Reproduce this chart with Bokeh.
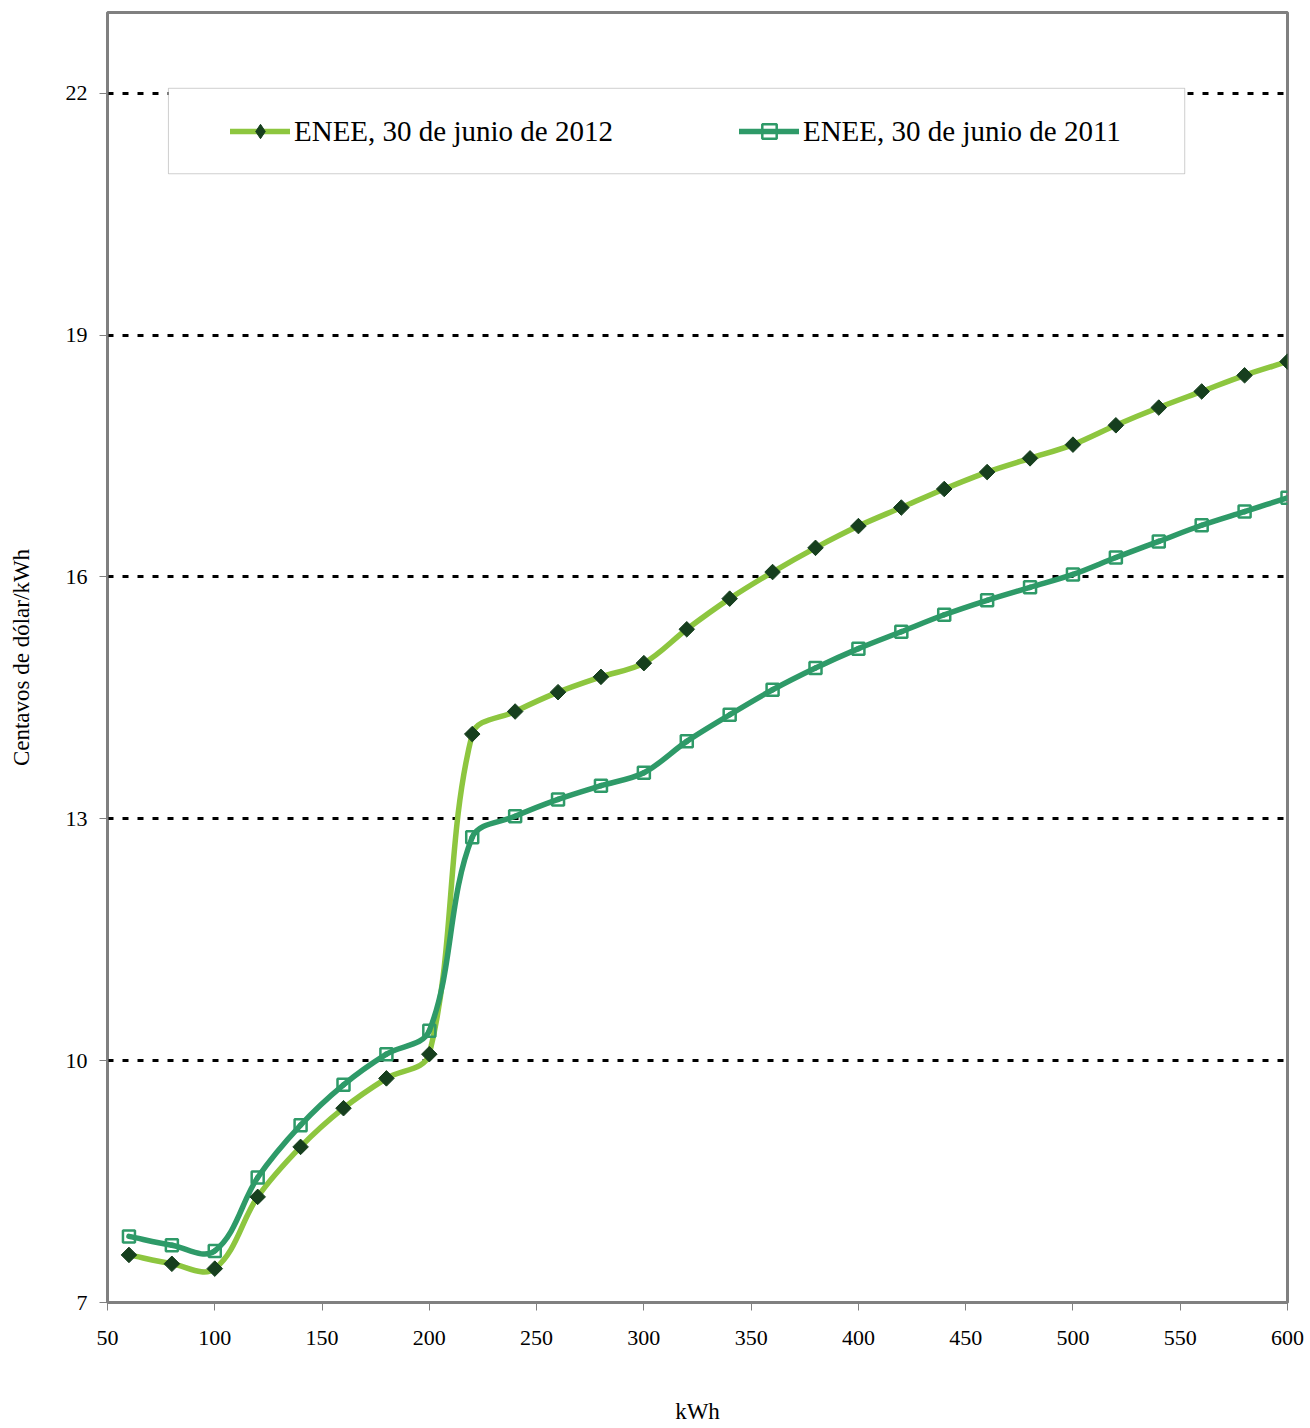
import math
from bokeh.plotting import figure
from bokeh.models import (Range1d, FixedTicker, Legend, LegendItem, BoxAnnotation,
                          ColumnDataSource)
from bokeh.embed import file_html
from bokeh.resources import INLINE

# ---- data ----
kwh = [60, 80, 100, 120, 140, 160, 180, 200, 220, 240, 260, 280, 300, 320,
       340, 360, 380, 400, 420, 440, 460, 480, 500, 520, 540, 560, 580, 600]
enee_2012 = [7.59, 7.48, 7.42, 8.31, 8.93, 9.41, 9.78, 10.08, 14.05, 14.33,
             14.57, 14.76, 14.93, 15.35, 15.73, 16.06, 16.36, 16.63, 16.86,
             17.09, 17.30, 17.47, 17.64, 17.88, 18.10, 18.30, 18.50, 18.67]
enee_2011 = [7.82, 7.71, 7.64, 8.55, 9.20, 9.70, 10.08, 10.37, 12.77, 13.03,
             13.24, 13.41, 13.57, 13.96, 14.29, 14.60, 14.87, 15.11, 15.32,
             15.53, 15.71, 15.87, 16.03, 16.24, 16.44, 16.64, 16.81, 16.98]
x_ticks = [50, 100, 150, 200, 250, 300, 350, 400, 450, 500, 550, 600]
y_ticks = [7, 10, 13, 16, 19, 22]
label_2012 = "ENEE, 30 de junio de 2012"
label_2011 = "ENEE, 30 de junio de 2011"

FONT = "Liberation Serif"
C2012_LINE = "#8DC63F"
C2012_MARK = "#163F1E"
C2011 = "#2E9A68"

X0, X1, Y0, Y1 = 50, 600, 7, 23
FRAME_W, FRAME_H = 1180, 1292
KX = FRAME_W / (X1 - X0)   # px per x unit (for smoothing shape only)
KY = FRAME_H / (Y1 - Y0)   # px per y unit


def smooth_segments(xs, ys):
    """Bezier control points for an Excel-like smoothed line (computed in pixel space)."""
    n = len(xs)
    px = [x * KX for x in xs]
    py = [y * KY for y in ys]

    def tangent(i):
        a = max(i - 1, 0)
        b = min(i + 1, n - 1)
        dx, dy = px[b] - px[a], py[b] - py[a]
        L = math.hypot(dx, dy) or 1.0
        return dx / L, dy / L

    d = dict(x0=[], y0=[], x1=[], y1=[], cx0=[], cy0=[], cx1=[], cy1=[])
    for i in range(n - 1):
        seg = math.hypot(px[i + 1] - px[i], py[i + 1] - py[i]) / 3.0
        t0 = tangent(i)
        t1 = tangent(i + 1)
        d["x0"].append(xs[i]); d["y0"].append(ys[i])
        d["x1"].append(xs[i + 1]); d["y1"].append(ys[i + 1])
        d["cx0"].append((px[i] + t0[0] * seg) / KX)
        d["cy0"].append((py[i] + t0[1] * seg) / KY)
        d["cx1"].append((px[i + 1] - t1[0] * seg) / KX)
        d["cy1"].append((py[i + 1] - t1[1] * seg) / KY)
    return ColumnDataSource(d)


p = figure(width=1305, height=1426, output_backend="svg", toolbar_location=None,
           x_range=Range1d(X0, X1), y_range=Range1d(Y0, Y1),
           min_border_left=107, min_border_right=18, min_border_top=12,
           min_border_bottom=122)

p.background_fill_color = "white"
p.border_fill_color = "white"
p.outline_line_color = "#808080"
p.outline_line_width = 3

# axes
for ax in (p.xaxis[0], p.yaxis[0]):
    ax.axis_line_color = "#808080"
    ax.axis_line_width = 2
    ax.major_tick_line_color = "#808080"
    ax.major_tick_line_width = 1
    ax.major_tick_out = 8
    ax.major_tick_in = 0
    ax.minor_tick_line_color = None
    ax.major_label_text_font = FONT
    ax.major_label_text_font_size = "22px"
    ax.major_label_text_color = "black"
    ax.axis_label_text_font = FONT
    ax.axis_label_text_font_size = "23px"
    ax.axis_label_text_font_style = "normal"
    ax.axis_label_text_color = "black"

p.xaxis.ticker = FixedTicker(ticks=x_ticks)
p.yaxis.ticker = FixedTicker(ticks=y_ticks)
p.xaxis.axis_label = "kWh"
p.yaxis.axis_label = "Centavos de dólar/kWh"
p.xaxis.major_label_standoff = 20
p.xaxis.axis_label_standoff = 51
p.yaxis.major_label_standoff = 12
p.yaxis.axis_label_standoff = 29

p.xgrid.grid_line_color = None
p.ygrid.ticker = FixedTicker(ticks=y_ticks)
p.ygrid.grid_line_color = "black"
p.ygrid.grid_line_width = 3
p.ygrid.grid_line_dash = "6 9"

# legend box (wider than its contents, hides the 22 gridline)
p.add_layout(BoxAnnotation(left=78.4, right=552.1, top=22.06, bottom=21.0,
                           fill_color="white", fill_alpha=1.0,
                           line_color="#606060", line_width=1, level="underlay"))

# series
s12 = smooth_segments(kwh, enee_2012)
s11 = smooth_segments(kwh, enee_2011)

b12 = p.bezier(x0="x0", y0="y0", x1="x1", y1="y1", cx0="cx0", cy0="cy0",
               cx1="cx1", cy1="cy1", source=s12, line_color=C2012_LINE,
               line_width=5.5, line_cap="round")
b11 = p.bezier(x0="x0", y0="y0", x1="x1", y1="y1", cx0="cx0", cy0="cy0",
               cx1="cx1", cy1="cy1", source=s11, line_color=C2011,
               line_width=5.5, line_cap="round")

m11 = p.scatter(kwh, enee_2011, marker="square", size=12, line_color=C2011,
                line_width=2.5, fill_color=None)
m12 = p.scatter(kwh, enee_2012, marker="square", size=11, angle=math.pi / 4,
                line_color=C2012_MARK, fill_color=C2012_MARK)
# legend-only diamond key (the plotted markers above are rotated squares)
k12 = p.scatter(kwh, enee_2012, marker="diamond", size=11,
                line_color=C2012_MARK, fill_color=C2012_MARK, visible=False)

legend = Legend(items=[LegendItem(label=label_2012, renderers=[b12, k12]),
                       LegendItem(label=label_2011, renderers=[b11, m11])],
                orientation="horizontal", location=(123, 1153),
                glyph_width=60, glyph_height=36, label_standoff=4,
                spacing=126, padding=10, margin=0,
                label_text_font=FONT, label_text_font_size="29px",
                label_text_color="black",
                background_fill_alpha=0, border_line_color=None)
p.add_layout(legend)

open("out.html", "w").write(file_html(p, INLINE))
